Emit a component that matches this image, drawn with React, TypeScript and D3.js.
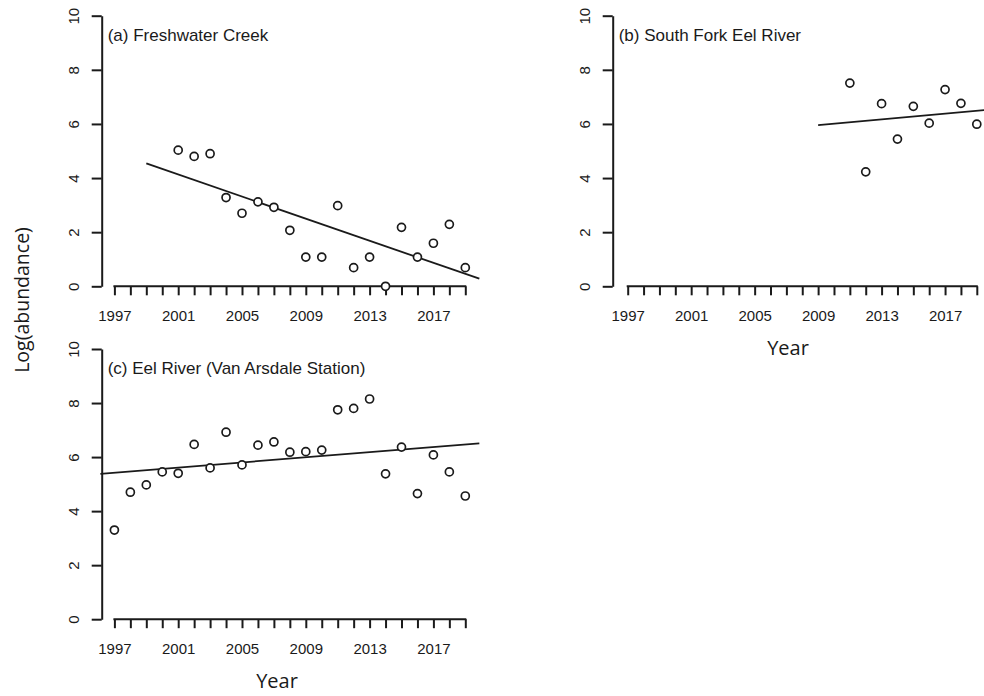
import * as d3 from "d3";
import {useRef, useEffect} from "react";

// x axis: a tick every year, a label every 4 years
const tickYears = [1997, 1998, 1999, 2000, 2001, 2002, 2003, 2004, 2005, 2006, 2007, 2008,
    2009, 2010, 2011, 2012, 2013, 2014, 2015, 2016, 2017, 2018, 2019];
const labelYears = [1997, 2001, 2005, 2009, 2013, 2017];
const yTicks = [0, 2, 4, 6, 8, 10];

// (a) Freshwater Creek
const freshwaterYears = [2001, 2002, 2003, 2004, 2005, 2006, 2007, 2008, 2009, 2010,
    2011, 2012, 2013, 2014, 2015, 2016, 2017, 2018, 2019];
const freshwaterValues = [5.03, 4.80, 4.90, 3.28, 2.70, 3.12, 2.92, 2.07, 1.08, 1.08,
    2.98, 0.69, 1.08, 0.0, 2.18, 1.08, 1.59, 2.29, 0.69];
const freshwaterTrend = [[1999, 4.54], [2019.88, 0.28]];

// (b) South Fork Eel River
const southForkYears = [2011, 2012, 2013, 2014, 2015, 2016, 2017, 2018, 2019];
const southForkValues = [7.51, 4.23, 6.75, 5.44, 6.65, 6.03, 7.27, 6.76, 5.99];
const southForkTrend = [[2009, 5.96], [2019.88, 6.53]];

// (c) Eel River (Van Arsdale Station)
const eelYears = [1997, 1998, 1999, 2000, 2001, 2002, 2003, 2004, 2005, 2006, 2007, 2008,
    2009, 2010, 2011, 2012, 2013, 2014, 2015, 2016, 2017, 2018, 2019];
const eelValues = [3.30, 4.70, 4.97, 5.45, 5.40, 6.47, 5.60, 6.92, 5.71, 6.44, 6.56, 6.18,
    6.20, 6.26, 7.75, 7.80, 8.15, 5.38, 6.37, 4.65, 6.08, 5.45, 4.56];
const eelTrend = [[1996.12, 5.38], [2019.88, 6.51]];

const tickFont = "'Liberation Sans', Arial, sans-serif";
const labelFont = "'Open Sans', sans-serif";
const ink = "#1a1a1a";

const panels = [
    {title: "(a) Freshwater Creek", years: freshwaterYears, values: freshwaterValues, trend: freshwaterTrend,
        x0: 114.4, x1: 465.3, axisX: 101.7, top: 15.7, bottom: 286.3, yearLabel: null},
    {title: "(b) South Fork Eel River", years: southForkYears, values: southForkValues, trend: southForkTrend,
        x0: 627.7, x1: 976.8, axisX: 612.7, top: 15.7, bottom: 286.3, yearLabel: 788},
    {title: "(c) Eel River (Van Arsdale Station)", years: eelYears, values: eelValues, trend: eelTrend,
        x0: 114.4, x1: 465.3, axisX: 101.7, top: 349, bottom: 619.2, yearLabel: 277},
];

const App = () => {
    const ref = useRef(null);

    useEffect(() => {
        const svg = d3.select(ref.current);
        svg.selectAll("*").remove();

        panels.forEach(p => {
            const x = d3.scaleLinear().domain([1997, 2019]).range([p.x0, p.x1]);
            const y = d3.scaleLinear().domain([0, 10]).range([p.bottom, p.top]);
            const g = svg.append("g");

            // y axis, labels turned to read upward like R
            const yAxis = g.append("g")
                .attr("transform", `translate(${p.axisX},0)`)
                .call(d3.axisLeft(y).tickValues(yTicks).tickSize(10).tickSizeOuter(0));
            yAxis.select(".domain").attr("stroke", ink).attr("stroke-width", 2);
            yAxis.selectAll(".tick line").attr("stroke", ink).attr("stroke-width", 2);
            yAxis.selectAll(".tick text")
                .attr("x", 0)
                .attr("dy", 0)
                .attr("text-anchor", "middle")
                .attr("transform", "translate(-23,0) rotate(-90)")
                .attr("fill", ink)
                .attr("font-size", 15)
                .attr("font-family", tickFont);

            // x axis: line only from first to last tick
            const xAxis = g.append("g")
                .attr("transform", `translate(0,${p.bottom})`)
                .call(d3.axisBottom(x).tickValues(tickYears).tickSize(9).tickSizeOuter(0).tickPadding(15)
                    .tickFormat(d => labelYears.includes(d) ? String(d) : ""));
            xAxis.select(".domain").remove();
            xAxis.append("line")
                .attr("x1", x(tickYears[0]) - 1)
                .attr("x2", x(tickYears[tickYears.length - 1]) + 1)
                .attr("stroke", ink)
                .attr("stroke-width", 2);
            xAxis.selectAll(".tick line").attr("stroke", ink).attr("stroke-width", 2);
            xAxis.selectAll(".tick text")
                .attr("fill", ink)
                .attr("font-size", 15)
                .attr("font-family", tickFont);

            // trend line
            g.append("path")
                .datum(p.trend)
                .attr("d", d3.line().x(d => x(d[0])).y(d => y(d[1])))
                .attr("fill", "none")
                .attr("stroke", ink)
                .attr("stroke-width", 1.8);

            // open circles
            g.append("g")
                .selectAll("circle")
                .data(p.years.map((yr, i) => [yr, p.values[i]]))
                .join("circle")
                .attr("cx", d => x(d[0]))
                .attr("cy", d => y(d[1]))
                .attr("r", 4)
                .attr("fill", "white")
                .attr("stroke", ink)
                .attr("stroke-width", 1.7);

            g.append("text")
                .attr("x", p.axisX + 6)
                .attr("y", p.top + 25)
                .attr("font-size", 17)
                .attr("font-family", tickFont)
                .attr("fill", ink)
                .text(p.title);

            if (p.yearLabel !== null) {
                g.append("text")
                    .attr("x", p.yearLabel)
                    .attr("y", p.bottom + 69)
                    .attr("text-anchor", "middle")
                    .attr("font-size", 20)
                    .attr("font-family", labelFont)
                    .attr("fill", ink)
                    .text("Year");
            }
        });

        svg.append("text")
            .attr("transform", "translate(29,300) rotate(-90)")
            .attr("text-anchor", "middle")
            .attr("font-size", 19.5)
            .attr("font-family", labelFont)
            .attr("fill", ink)
            .text("Log(abundance)");
    }, []);

    return (
        <svg ref={ref} width={984} height={696}
             style={{position: "absolute", left: 0, top: 0, background: "white"}}/>
    );
};

export default App;
